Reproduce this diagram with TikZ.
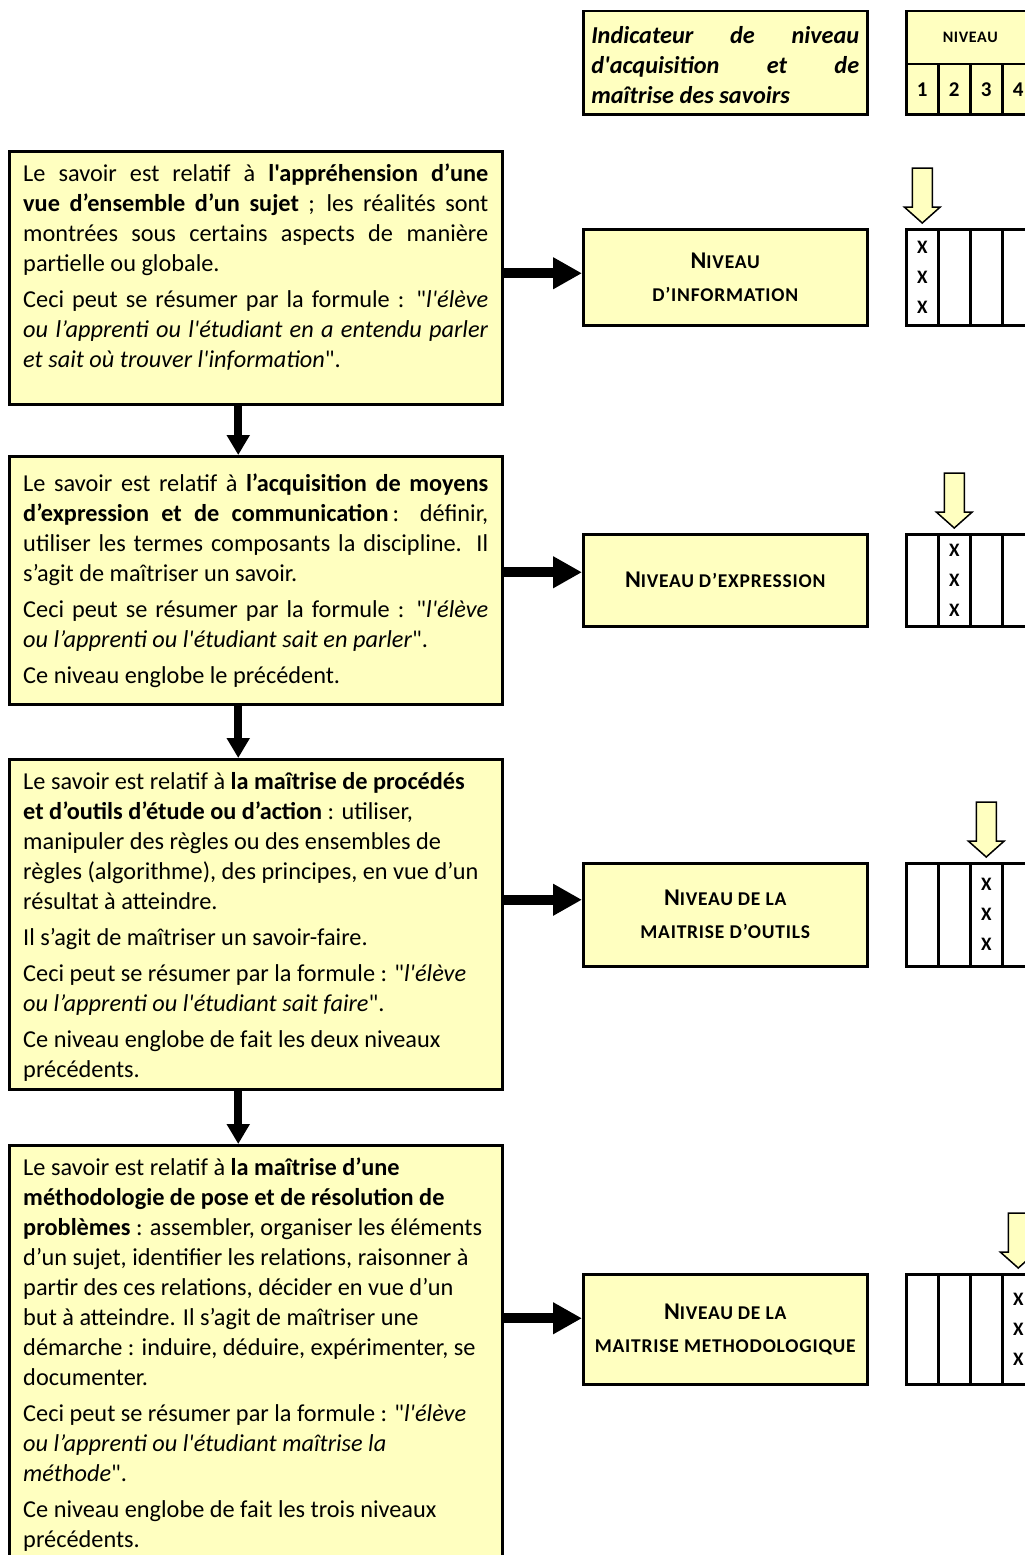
\documentclass[tikz,border=0pt]{standalone}
\usepackage{fontspec}
\newfontfamily\calibri{Carlito}
\newfontfamily\calibrisc{Carlito}[LetterSpace=4]
\usetikzlibrary{arrows.meta, positioning, calc}
\definecolor{fond}{RGB}{255,255,192}
% petites capitales simulees
\newcommand\pc[1]{{\calibrisc\fontsize{19.5}{19.5}\selectfont #1}}
\newcommand\niv{{\fontsize{24}{24}\selectfont N}\pc{IVEAU}}
% ligne justifiee
\newcommand\jl[1]{\strut\makebox[\linewidth][s]{#1}\newline}
% contenu d'un cadre : [marge haute] hauteur, largeur, texte
\newcommand\bloc[4][3pt]{\parbox[c][#2][t]{#3}{\fontsize{24.3}{30}\selectfont
  \setlength\parskip{6pt}\vspace*{#1}\strut#4}}
\tikzset{
  savoir/.style={draw, line width=2.5pt, fill=fond, anchor=north west,
    inner xsep=14pt, inner ysep=0pt, font=\calibri},
  niveau/.style={draw, line width=2.5pt, fill=fond, anchor=north west,
    minimum width=284pt, align=center,
    font=\calibri\bfseries\fontsize{21}{33}\selectfont},
  case/.style={draw, line width=2.5pt, anchor=north west,
    minimum width=32pt, inner sep=0pt},
  marque/.style={align=center, inner sep=0pt,
    font=\calibri\bfseries\fontsize{19}{30}\selectfont},
  grosse fleche/.style={line width=10pt, -{Triangle[width=30pt,length=29pt]}},
  fleche bas/.style={line width=8pt, -{Triangle[width=22pt,length=20pt]}},
  fleche creuse/.style={draw, line width=1.5pt, fill=fond, line join=miter},
}
\begin{document}
\begin{tikzpicture}[x=1pt, y=-1pt]
  \useasboundingbox (0,0) rectangle (1025,1555);
  % en-tete
  \node[savoir, inner xsep=8pt] (titre) at (582,10)
    {\bloc[5pt]{103pt}{268pt}{\bfseries\itshape
      \jl{Indicateur de niveau}\jl{d'acquisition et de}maîtrise des savoirs}};
  \node[case, fill=fond, minimum width=128pt, minimum height=53pt,
    font=\calibrisc\bfseries\fontsize{16}{16}\selectfont] (entete) at (905,10) {NIVEAU};
  \foreach \c in {1,...,4}
    \node[case, fill=fond, minimum height=50pt,
      font=\calibri\bfseries\fontsize{21}{21}\selectfont] (n\c) at ({905+32*(\c-1)},63) {\raisebox{-4pt}{\c}};
  % les quatre savoirs
  \node[savoir] (b1) at (8,150) {\bloc{253pt}{465pt}{%
    \jl{Le savoir est relatif à \textbf{l'appréhension d’une}}
    \jl{\textbf{vue d’ensemble d’un sujet} ; les réalités sont}
    \jl{montrées sous certains aspects de manière}
    partielle ou globale.\par
    \jl{Ceci peut se résumer par la formule : "\textit{l'élève}}
    \jl{\textit{ou l’apprenti ou l'étudiant en a entendu parler}}
    \textit{et sait où trouver l'information}".}};
  \node[savoir] (b2) at (8,455) {\bloc[8pt]{248pt}{465pt}{%
    \jl{Le savoir est relatif à \textbf{l’acquisition de moyens}}
    \jl{\textbf{d’expression et de communication}\hspace{4pt}: définir,}
    \jl{utiliser les termes composants la discipline. Il}
    s’agit de maîtriser un savoir.\par
    \jl{Ceci peut se résumer par la formule : "\textit{l'élève}}
    \textit{ou l’apprenti ou l'étudiant sait en parler}".\par
    Ce niveau englobe le précédent.}};
  \node[savoir] (b3) at (8,758) {\bloc{330pt}{465pt}{\raggedright
    Le savoir est relatif à \textbf{la maîtrise de procédés}\\
    \textbf{et d’outils d’étude ou d’action} : utiliser,\\
    manipuler des règles ou des ensembles de\\
    règles (algorithme), des principes, en vue d’un\\
    résultat à atteindre.\par
    Il s’agit de maîtriser un savoir-faire.\par
    Ceci peut se résumer par la formule : "\textit{l'élève}\\
    \textit{ou l’apprenti ou l'étudiant sait faire}".\par
    Ce niveau englobe de fait les deux niveaux\\
    précédents.}};
  \node[savoir] (b4) at (8,1144) {\bloc{440pt}{465pt}{\raggedright
    Le savoir est relatif à \textbf{la maîtrise d’une}\\
    \textbf{méthodologie de pose et de résolution de}\\
    \textbf{problèmes} : assembler, organiser les éléments\\
    d’un sujet, identifier les relations, raisonner à\\
    partir des ces relations, décider en vue d’un\\
    but à atteindre. Il s’agit de maîtriser une\\
    démarche : induire, déduire, expérimenter, se\\
    documenter.\par
    Ceci peut se résumer par la formule : "\textit{l'élève}\\
    \textit{ou l’apprenti ou l'étudiant maîtrise la}\\
    \textit{méthode}".\par
    Ce niveau englobe de fait les trois niveaux\\
    précédents.}};
  % les niveaux
  \node[niveau, minimum height=96pt] (r1) at (582,228) {\niv\\\pc{D’INFORMATION}};
  \node[niveau, minimum height=92pt] (r2) at (582,533) {\niv\ \pc{D’EXPRESSION}};
  \node[niveau, minimum height=103pt] (r3) at (582,862) {\niv\ \pc{DE LA}\\\pc{MAITRISE D’OUTILS}};
  \node[niveau, minimum height=110pt] (r4) at (582,1273) {\niv\ \pc{DE LA}\\\pc{MAITRISE METHODOLOGIQUE}};
  % grilles et reperes
  \foreach \i/\y/\h in {1/228/96, 2/533/92, 3/862/103, 4/1273/110}{
    \foreach \c in {1,...,4}
      \node[case, minimum height=\h pt] (t\i-\c) at ({905+32*(\c-1)},\y) {};
    \node[marque] (x\i) at (t\i-\i) {X\\X\\X};
    \coordinate (p\i) at ([yshift=5pt]t\i-\i.north);
    \draw[fleche creuse] (p\i) -- ++(-18,-16) -- ++(8,0) -- ++(0,-39)
      -- ++(20,0) -- ++(0,39) -- ++(8,0) -- cycle;
  }
  % fleches
  \foreach \i/\d in {1/4, 2/8, 3/15, 4/11}{
    \coordinate (a\i) at ([yshift=\d pt]r\i.west);
    \draw[grosse fleche] (a\i -| b\i.east) -- (a\i);
  }
  \foreach \i/\j in {1/2, 2/3, 3/4}{
    \coordinate (d\i) at ([xshift=-17.5pt]b\i.south);
    \draw[fleche bas] (d\i) -- (d\i |- b\j.north);
  }
\end{tikzpicture}
\end{document}
